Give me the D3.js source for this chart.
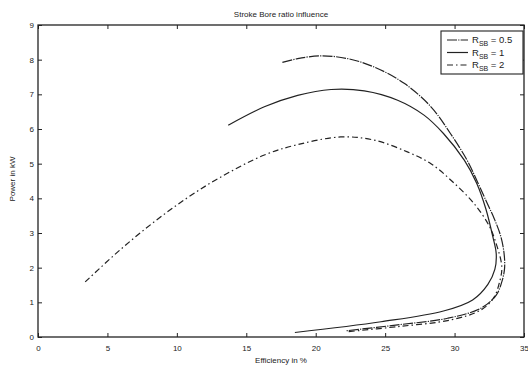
<!DOCTYPE html>
<html>
<head>
<meta charset="utf-8">
<title>Stroke Bore ratio influence</title>
<script src="https://cdn.jsdelivr.net/npm/d3@7"></script>
<style>
  body { margin: 0; background: #fff; }
  text { font-family: "Liberation Sans", Arial, sans-serif; fill: #222; }
</style>
</head>
<body>
<div id="chart"></div>
<script>
// values (efficiency %, power kW), ordered along each loop
var eff05 = [17.6, 18.7, 20.4, 22.3, 24.2, 26.4, 28.3, 29.7, 30.9, 31.7, 32.3, 32.85, 33.3, 33.55, 33.6, 33.4, 33.0, 31.9, 29.5, 25.9, 22.2];
var pow05 = [7.92, 8.03, 8.11, 8.03, 7.79, 7.31, 6.64, 5.87, 5.10, 4.43, 3.9, 3.42, 2.94, 2.46, 1.98, 1.59, 1.21, 0.83, 0.54, 0.35, 0.18];

var eff1 = [13.7, 16.3, 18.7, 21.1, 23.5, 25.9, 27.8, 29.2, 30.7, 31.6, 32.25, 32.75, 33.0, 32.9, 32.4, 31.3, 29.2, 24.7, 18.5];
var pow1 = [6.11, 6.64, 6.97, 7.14, 7.10, 6.83, 6.40, 5.87, 5.10, 4.43, 3.7, 2.9, 2.4, 1.95, 1.52, 1.07, 0.75, 0.44, 0.13];

var eff2 = [3.4, 5.9, 8.3, 10.7, 13.1, 16.3, 18.7, 21.8, 24.2, 26.6, 28.3, 29.8, 31.4, 32.5, 32.95, 33.4, 33.25, 32.8, 31.9, 29.7, 25.9, 22.2];
var pow2 = [1.59, 2.51, 3.3, 4.0, 4.6, 5.25, 5.55, 5.77, 5.68, 5.34, 5.0, 4.5, 3.85, 3.2, 2.75, 2.03, 1.6, 1.12, 0.78, 0.49, 0.30, 0.15];

var xTicks = [0, 5, 10, 15, 20, 25, 30, 35];
var yTicks = [0, 1, 2, 3, 4, 5, 6, 7, 8, 9];
var seriesNames = ["0.5", "1", "2"];

var width = 528, height = 369;
var mLeft = 38, mRight = 524, mTop = 25, mBottom = 337;

var svg = d3.select("#chart").append("svg")
    .attr("width", width)
    .attr("height", height);

var x = d3.scaleLinear().domain([0, 35]).range([mLeft, mRight]);
var y = d3.scaleLinear().domain([0, 9]).range([mBottom, mTop]);

var ink = "#222";

// axes with inward ticks on all four sides
function styleAxis(g) {
    g.select(".domain").remove();
    g.selectAll("line").attr("stroke", ink).attr("stroke-width", 1);
    g.selectAll("text").style("font-size", "8px").attr("fill", ink);
}

svg.append("g").attr("transform", "translate(0," + mBottom + ")")
    .call(d3.axisBottom(x).tickValues(xTicks).tickSize(-4).tickPadding(8))
    .call(styleAxis);
svg.append("g").attr("transform", "translate(0," + mTop + ")")
    .call(d3.axisTop(x).tickValues(xTicks).tickSize(-4).tickFormat(""))
    .call(styleAxis);
svg.append("g").attr("transform", "translate(" + mLeft + ",0)")
    .call(d3.axisLeft(y).tickValues(yTicks).tickSize(-4).tickPadding(4))
    .call(styleAxis);
svg.append("g").attr("transform", "translate(" + mRight + ",0)")
    .call(d3.axisRight(y).tickValues(yTicks).tickSize(-4).tickFormat(""))
    .call(styleAxis);

svg.append("rect")
    .attr("x", mLeft).attr("y", mTop)
    .attr("width", mRight - mLeft).attr("height", mBottom - mTop)
    .attr("fill", "none").attr("stroke", ink).attr("stroke-width", 1.3);

// curves
var line = d3.line()
    .x(function(d){ return x(d[0]); })
    .y(function(d){ return y(d[1]); })
    .curve(d3.curveCatmullRom.alpha(0.5));

var series = [
    { eff: eff05, pow: pow05, dash: "10,1.2,1.2,1.2" },
    { eff: eff1,  pow: pow1,  dash: null },
    { eff: eff2,  pow: pow2,  dash: "6,3,1.5,3" }
];

series.forEach(function(s){
    var pts = s.eff.map(function(e, i){ return [e, s.pow[i]]; });
    svg.append("path")
        .datum(pts)
        .attr("d", line)
        .attr("fill", "none")
        .attr("stroke", ink)
        .attr("stroke-width", 1.2)
        .attr("stroke-dasharray", s.dash);
});

// title and axis labels
svg.append("text")
    .attr("x", (mLeft + mRight) / 2).attr("y", 17)
    .attr("text-anchor", "middle")
    .style("font-size", "8px")
    .text("Stroke Bore ratio influence");

svg.append("text")
    .attr("x", (mLeft + mRight) / 2).attr("y", 363)
    .attr("text-anchor", "middle")
    .style("font-size", "8px")
    .text("Efficiency in %");

svg.append("text")
    .attr("transform", "translate(15," + ((mTop + mBottom) / 2 - 2) + ") rotate(-90)")
    .attr("text-anchor", "middle")
    .style("font-size", "8px")
    .text("Power in kW");

// legend
var lg = svg.append("g");
lg.append("rect")
    .attr("x", 441).attr("y", 31)
    .attr("width", 82).attr("height", 43)
    .attr("fill", "#fff").attr("stroke", ink).attr("stroke-width", 1.1);

series.forEach(function(s, i){
    var ly = 40 + i * 12.5;
    lg.append("line")
        .attr("x1", 447).attr("x2", 468)
        .attr("y1", ly).attr("y2", ly)
        .attr("stroke", ink).attr("stroke-width", 1.2)
        .attr("stroke-dasharray", s.dash);
    var t = lg.append("text")
        .attr("x", 472).attr("y", ly + 3)
        .style("font-size", "9.5px");
    t.append("tspan").text("R");
    t.append("tspan").attr("dy", 3).style("font-size", "7px").text("SB");
    t.append("tspan").attr("dy", -3).text(" = " + seriesNames[i]);
});
</script>
</body>
</html>
